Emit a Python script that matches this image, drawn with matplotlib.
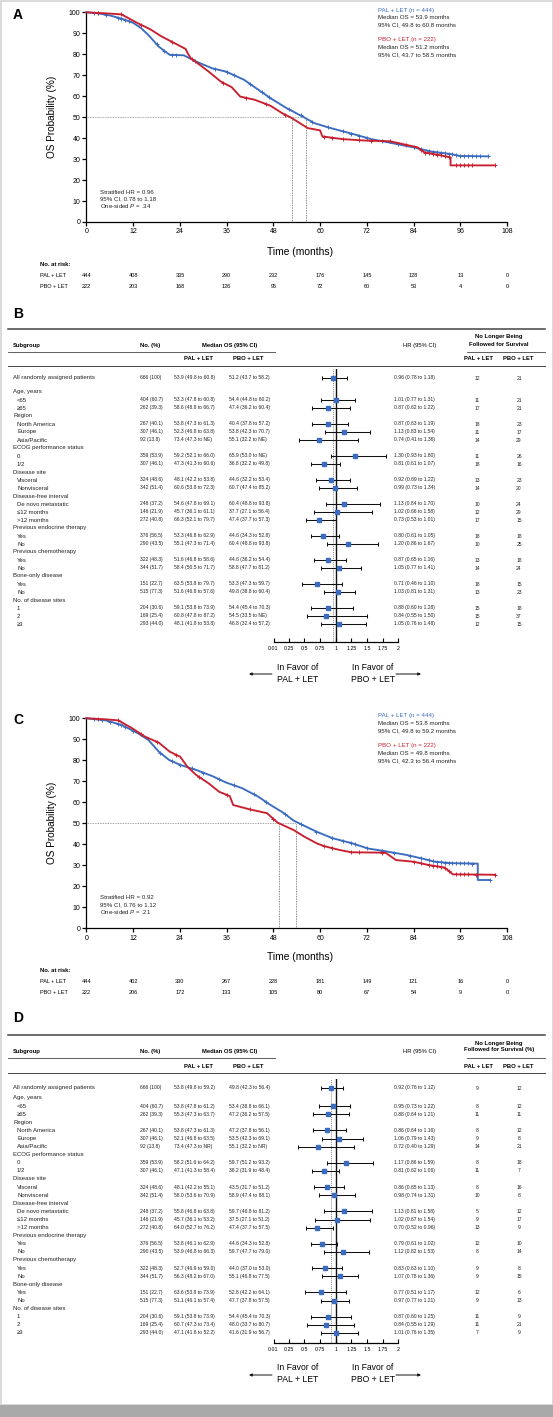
import numpy as np
import matplotlib
matplotlib.use("Agg")
import matplotlib.pyplot as plt
from matplotlib.transforms import blended_transform_factory as blend
from matplotlib.patches import Rectangle

plt.rcParams['font.family'] = ['Liberation Sans', 'DejaVu Sans']
plt.rcParams['mathtext.fontset'] = 'custom'
plt.rcParams['mathtext.it'] = 'Liberation Sans:italic'
plt.rcParams['mathtext.rm'] = 'Liberation Sans'

BLUE = '#3b6cc0'
RED = '#c8202e'
W, H = 553, 1417

# ---------------- KM data ----------------
a_pal_t = [0, 3, 6, 9, 12, 14, 16, 18.6, 21.4, 25, 28.2, 32.3, 35.9, 40.5, 43.2, 47.3, 51.4, 55.5,
           58.6, 62.3, 68.6, 73.2, 77.7, 84, 88.5, 93.2, 96, 103.2]
a_pal_s = [100, 99.5, 98.5, 97, 95, 92.5, 89, 83.6, 79.7, 79.5, 76.5, 73.3, 71.7, 67.8, 64.3, 59,
           54.3, 50.3, 47.1, 45, 41.9, 39.5, 37.9, 35.6, 33.6, 32.5, 31.5, 31.3]
a_pbo_t = [0, 5, 9, 13.2, 16.4, 19.1, 22.3, 25.5, 26.0, 26.8, 29.5, 31.4, 34.5, 37.3, 39.5, 43.2,
           47.3, 50, 52.8, 56.8, 60, 60.6, 65.9, 72, 78, 85, 86.8, 90.5, 93.5, 93.5, 104.8]
a_pbo_s = [100, 99.5, 99, 94.8, 91.9, 88.7, 85.6, 82.5, 80.5, 78.1, 74.4, 71.7, 67, 64.3, 59.8,
           58.3, 55.4, 52.2, 49.5, 44.8, 43.7, 40.8, 39.5, 38.8, 38.5, 35.6, 33.2, 32, 30.8, 27, 27]
a_pal_cens = [2, 3, 5, 8, 9, 10, 11, 18, 20, 22, 23, 28, 33, 36, 38, 42, 45, 47, 52, 55, 58, 62,
              66, 68, 70, 72, 76, 80, 84, 86, 88, 89, 90, 91, 92, 93, 94, 95, 96, 97, 98, 99, 100,
              101, 103.2]
a_pbo_cens = [3, 9, 14, 22, 27, 35, 41, 46, 51, 61, 63, 66, 70, 73, 78, 82, 86, 87, 88, 89, 90,
              91, 92, 93, 95, 96, 97, 98, 99, 104.8]
a_medians = [52.7, 56.4]

c_pal_t = [0, 5, 9.1, 13.2, 15.9, 18.6, 21.2, 24.1, 28.2, 32.3, 35.9, 40, 44.1, 47.3, 50.5, 53.2,
           55.5, 59.1, 63.2, 68.2, 72.3, 76.4, 82.3, 86, 89.5, 94, 100.5, 100.5, 103.6]
c_pal_s = [100, 99, 96.8, 92.9, 89.7, 84.1, 80.2, 77.8, 75.4, 72.5, 69.4, 66.7, 62.7, 58.7, 55.1,
           51.3, 49.2, 46, 42.9, 40.5, 38, 36.8, 34.9, 33.3, 31.7, 31, 30.8, 23, 23]
c_pbo_t = [0, 5, 8.2, 11.8, 15, 18.6, 21.4, 24.1, 25.9, 28.2, 31.4, 34.1, 36.8, 37.7, 41.8, 46.4,
           49.1, 53.2, 55.9, 59.1, 60.9, 65, 68, 76.8, 79.5, 84, 87.7, 92, 94.1, 105]
c_pbo_s = [100, 99.5, 99, 95.2, 91.3, 88.4, 84.1, 81.7, 77, 73, 69, 65, 63, 58.7, 56.7, 54.8,
           50.3, 46.8, 43.7, 40.5, 39.2, 37.3, 36.2, 36, 32.5, 31.7, 30.2, 28.9, 25.7, 25.5]
c_pal_cens = [2, 4, 6, 8, 9, 10, 12, 19, 22, 24, 27, 30, 34, 38, 43, 46, 51, 55, 59, 63, 66, 68,
              69, 72, 76, 79, 83, 86, 88, 89, 90, 91, 92, 93, 94, 95, 96, 97, 98, 99, 103.6]
c_pbo_cens = [3, 8, 14, 18, 23, 29, 36, 42, 48, 61, 63, 68, 70, 76, 84, 86, 88, 89, 90, 91, 92,
              93, 95, 96, 97, 98, 100, 105]
c_medians = [49.4, 53.7]

risk_months = [0, 12, 24, 36, 48, 60, 72, 84, 96, 108]
a_risk_pal = [444, 408, 335, 290, 232, 176, 145, 128, 13, 0]
a_risk_pbo = [222, 203, 168, 126, 95, 72, 60, 53, 4, 0]
c_risk_pal = [444, 402, 330, 267, 228, 181, 149, 121, 16, 0]
c_risk_pbo = [222, 206, 172, 133, 105, 80, 67, 54, 9, 0]

a_legend = ["PAL + LET (n = 444)", "Median OS = 53.9 months", "95% CI, 49.8 to 60.8 months",
            "PBO + LET (n = 222)", "Median OS = 51.2 months", "95% CI, 43.7 to 58.5 months"]
c_legend = ["PAL + LET (n = 444)", "Median OS = 53.8 months", "95% CI, 49.8 to 59.2 months",
            "PBO + LET (n = 222)", "Median OS = 49.8 months", "95% CI, 42.3 to 56.4 months"]
a_hr_text = ["Stratified HR = 0.96", "95% CI, 0.78 to 1.18", r"One-sided $\it{P}$ = .34"]
c_hr_text = ["Stratified HR = 0.92", "95% CI, 0.76 to 1.12", r"One-sided $\it{P}$ = .21"]

# ---------------- Forest data ----------------
sub_labels = ["All randomly assigned patients", "Age, years", "<65", "\u226565", "Region",
              "North America", "Europe", "Asia/Pacific", "ECOG performance status", "0", "1/2",
              "Disease site", "Visceral", "Nonvisceral", "Disease-free interval",
              "De novo metastatic", "\u226412 months", ">12 months", "Previous endocrine therapy",
              "Yes", "No", "Previous chemotherapy", "Yes", "No", "Bone-only disease", "Yes", "No",
              "No. of disease sites", "1", "2", "\u22653"]
sub_n = ["666 (100)", None, "404 (60.7)", "262 (39.3)", None, "267 (40.1)", "307 (46.1)",
         "92 (13.8)", None, "359 (53.9)", "307 (46.1)", None, "324 (48.6)", "342 (51.4)", None,
         "248 (37.2)", "146 (21.9)", "272 (40.8)", None, "376 (56.5)", "290 (43.5)", None,
         "322 (48.3)", "344 (51.7)", None, "151 (22.7)", "515 (77.3)", None, "204 (30.6)",
         "169 (25.4)", "293 (44.0)"]

b_pal_med = ["53.9 (49.8 to 60.8)", None, "53.3 (47.8 to 60.8)", "58.6 (48.8 to 66.7)", None,
             "53.8 (47.3 to 61.3)", "52.3 (46.8 to 63.8)", "73.4 (47.3 to NE)", None,
             "59.2 (52.1 to 66.0)", "47.3 (41.3 to 60.6)", None, "48.1 (42.2 to 53.8)",
             "60.6 (53.8 to 72.3)", None, "54.6 (47.8 to 69.1)", "45.7 (36.1 to 61.1)",
             "66.3 (52.1 to 79.7)", None, "53.3 (46.8 to 62.9)", "55.1 (47.3 to 71.4)", None,
             "51.6 (46.8 to 58.6)", "58.4 (50.5 to 71.7)", None, "63.5 (53.8 to 79.7)",
             "51.6 (46.8 to 57.6)", None, "59.1 (53.8 to 73.9)", "60.8 (47.8 to 87.2)",
             "48.1 (41.8 to 53.8)"]
b_pbo_med = ["51.2 (43.7 to 58.2)", None, "54.4 (44.8 to 60.2)", "47.4 (36.2 to 60.4)", None,
             "40.4 (37.8 to 57.2)", "53.8 (42.3 to 70.7)", "55.1 (32.2 to NE)", None,
             "65.9 (53.0 to NE)", "36.8 (32.2 to 49.8)", None, "44.6 (32.2 to 53.4)",
             "60.7 (47.4 to 85.2)", None, "60.4 (48.8 to 93.8)", "37.7 (27.1 to 56.4)",
             "47.4 (37.7 to 57.3)", None, "44.6 (34.3 to 52.8)", "60.4 (48.8 to 93.8)", None,
             "44.6 (36.2 to 54.4)", "58.8 (47.7 to 81.2)", None, "53.3 (47.3 to 59.7)",
             "49.8 (38.8 to 60.4)", None, "54.4 (45.4 to 70.3)", "54.5 (33.5 to NE)",
             "46.8 (32.4 to 57.2)"]
b_hr = [0.96, None, 1.01, 0.87, None, 0.87, 1.13, 0.74, None, 1.30, 0.81, None, 0.92, 0.99, None,
        1.13, 1.02, 0.73, None, 0.80, 1.20, None, 0.87, 1.05, None, 0.71, 1.03, None, 0.88, 0.84,
        1.05]
b_lo = [0.78, None, 0.77, 0.62, None, 0.63, 0.83, 0.41, None, 0.93, 0.61, None, 0.69, 0.73, None,
        0.84, 0.66, 0.53, None, 0.61, 0.86, None, 0.65, 0.77, None, 0.46, 0.81, None, 0.60, 0.55,
        0.76]
b_hi = [1.18, None, 1.31, 1.22, None, 1.19, 1.54, 1.36, None, 1.80, 1.07, None, 1.22, 1.34, None,
        1.70, 1.58, 1.01, None, 1.05, 1.67, None, 1.16, 1.41, None, 1.10, 1.31, None, 1.28, 1.50,
        1.48]
b_nf_pal = [12, None, 11, 17, None, 18, 11, 14, None, 11, 18, None, 13, 14, None, 10, 12, 17,
            None, 18, 10, None, 13, 14, None, 18, 13, None, 15, 15, 12]
b_nf_pbo = [21, None, 21, 21, None, 23, 17, 29, None, 26, 16, None, 23, 20, None, 24, 29, 15,
            None, 18, 25, None, 18, 24, None, 15, 23, None, 18, 37, 15]

d_pal_med = ["53.8 (49.8 to 59.2)", None, "53.8 (47.8 to 61.2)", "55.3 (47.3 to 63.7)", None,
             "53.8 (47.3 to 61.3)", "52.1 (46.8 to 63.5)", "73.4 (47.3 to NR)", None,
             "58.2 (51.6 to 64.2)", "47.1 (41.3 to 58.4)", None, "48.1 (42.2 to 55.1)",
             "58.0 (53.6 to 70.9)", None, "55.8 (46.8 to 63.8)", "45.7 (36.1 to 53.2)",
             "64.0 (52.7 to 76.2)", None, "53.8 (46.1 to 62.9)", "53.9 (46.8 to 66.3)", None,
             "52.7 (46.9 to 59.0)", "56.3 (48.2 to 67.0)", None, "63.6 (53.8 to 73.9)",
             "51.1 (46.1 to 57.4)", None, "59.1 (53.8 to 73.9)", "60.7 (47.3 to 73.4)",
             "47.1 (41.6 to 52.2)"]
d_pbo_med = ["49.8 (42.3 to 56.4)", None, "53.4 (38.8 to 66.1)", "47.2 (36.2 to 57.5)", None,
             "47.2 (37.8 to 56.1)", "53.5 (42.3 to 69.1)", "55.1 (32.2 to NR)", None,
             "59.7 (51.2 to 93.2)", "38.2 (31.9 to 48.4)", None, "43.5 (31.7 to 51.2)",
             "58.9 (47.4 to 88.1)", None, "59.7 (46.8 to 81.2)", "37.5 (27.1 to 51.2)",
             "47.4 (37.7 to 57.5)", None, "44.6 (34.3 to 52.8)", "59.7 (47.7 to 79.0)", None,
             "44.0 (37.0 to 53.0)", "55.1 (46.8 to 77.5)", None, "52.8 (42.2 to 64.1)",
             "47.7 (37.8 to 57.5)", None, "54.4 (45.4 to 70.3)", "48.0 (33.7 to 80.7)",
             "41.6 (31.9 to 56.7)"]
d_hr = [0.92, None, 0.95, 0.88, None, 0.86, 1.06, 0.72, None, 1.17, 0.81, None, 0.86, 0.98, None,
        1.13, 1.02, 0.70, None, 0.79, 1.12, None, 0.83, 1.07, None, 0.77, 0.97, None, 0.87, 0.84,
        1.01]
d_lo = [0.76, None, 0.73, 0.64, None, 0.64, 0.79, 0.40, None, 0.86, 0.62, None, 0.65, 0.74, None,
        0.81, 0.67, 0.52, None, 0.61, 0.82, None, 0.63, 0.78, None, 0.51, 0.77, None, 0.60, 0.55,
        0.76]
d_hi = [1.12, None, 1.22, 1.21, None, 1.16, 1.43, 1.29, None, 1.59, 1.06, None, 1.13, 1.31, None,
        1.58, 1.54, 0.96, None, 1.02, 1.53, None, 1.10, 1.36, None, 1.17, 1.21, None, 1.25, 1.29,
        1.35]
d_nf_pal = [9, None, 8, 11, None, 8, 9, 14, None, 8, 11, None, 8, 10, None, 5, 9, 13, None, 12, 8,
            None, 9, 9, None, 12, 9, None, 11, 11, 7]
d_nf_pbo = [12, None, 12, 11, None, 12, 8, 21, None, 18, 7, None, 16, 8, None, 12, 17, 9, None,
            10, 14, None, 8, 15, None, 6, 13, None, 9, 21, 9]

hr_ticks = [0.01, 0.25, 0.5, 0.75, 1, 1.25, 1.5, 1.75, 2]
hr_ticklabels = ["0.01", "0.25", "0.5", "0.75", "1", "1.25", "1.5", "1.75", "2"]

# ---------------- Figure ----------------
fig = plt.figure(figsize=(W / 100, H / 100), dpi=100)
ov = fig.add_axes([0, 0, 1, 1], zorder=0)
ov.set_xlim(0, W)
ov.set_ylim(H, 0)
ov.axis('off')
ov.add_patch(Rectangle((0.5, 0.5), W - 1, 1404, fill=False, ec='#d4d4d4', lw=1.2))
ov.add_patch(Rectangle((0, 1405), W, 12, color='#a9a9a9', lw=0))

KX0, KX1 = 86.4, 507.0


def km_panel(top, bot, letter, letter_y, curves, medians, legend, leg_y, hrtxt, hr_y,
             risk_pal, risk_pbo, risk_y, tlabel_y):
    ax = fig.add_axes([KX0 / W, 1 - bot / H, (KX1 - KX0) / W, (bot - top) / H], zorder=2)
    ax.set_facecolor('none')
    ax.set_xlim(0, 108)
    ax.set_ylim(0, 100)
    for sp in ['top', 'right']:
        ax.spines[sp].set_visible(False)
    for sp in ['left', 'bottom']:
        ax.spines[sp].set_linewidth(0.9)
    ax.set_xticks(risk_months)
    ax.set_yticks(range(0, 101, 10))
    ax.tick_params(labelsize=5.0, length=3, width=0.9, pad=1.5)
    # median dotted lines
    ax.plot([0, max(medians)], [50, 50], ls=(0, (1, 1)), color='#888888', lw=0.6)
    for m in medians:
        ax.plot([m, m], [0, 50], ls=(0, (1, 1)), color='#666666', lw=0.6)
    for t, s, cens, col in curves:
        ax.plot(t, s, color=col, lw=1.35, clip_on=False, zorder=3)
        ax.plot(cens, np.interp(cens, t, s), ls='none', marker='+', color=col, ms=3.4,
                mew=0.7, clip_on=False, zorder=3)
    ov.text(13, letter_y, letter, fontsize=10, fontweight='bold', ha='left', va='center')
    ov.text(52, (top + bot) / 2, "OS Probability (%)", rotation=90, fontsize=7.2,
            ha='center', va='center')
    ov.text(300, tlabel_y, "Time (months)", fontsize=7.4, ha='center', va='center')
    # legend
    for i, line in enumerate(legend):
        col = BLUE if i == 0 else (RED if i == 3 else '#222222')
        ov.text(KX0 + 0.693 * (KX1 - KX0), leg_y[i], line, fontsize=4.4, color=col,
                ha='left', va='center')
    for i, line in enumerate(hrtxt):
        ov.text(99.5, hr_y[i], line, fontsize=4.4, color='#222222', ha='left', va='center')
    # risk table
    tr = blend(ax.transData, ov.transData)
    ov.text(40, risk_y[0], "No. at risk:", fontsize=4.2, fontweight='bold', ha='left',
            va='center')
    ov.text(40, risk_y[1], "PAL + LET", fontsize=4.0, ha='left', va='center')
    ov.text(40, risk_y[2], "PBO + LET", fontsize=4.0, ha='left', va='center')
    for m, vp, vb in zip(risk_months, risk_pal, risk_pbo):
        ax.text(m, risk_y[1], str(vp), transform=tr, fontsize=4.0, ha='center', va='center')
        ax.text(m, risk_y[2], str(vb), transform=tr, fontsize=4.0, ha='center', va='center')
    return ax


km_panel(12.3, 222, "A", 15,
         [(a_pal_t, a_pal_s, a_pal_cens, BLUE), (a_pbo_t, a_pbo_s, a_pbo_cens, RED)],
         a_medians, a_legend, [10.3, 17.7, 25, 39.7, 47.3, 54.6], a_hr_text, [192, 199, 206.5],
         a_risk_pal, a_risk_pbo, [265, 275.5, 286], 252)
km_panel(718.3, 928.3, "C", 720,
         [(c_pal_t, c_pal_s, c_pal_cens, BLUE), (c_pbo_t, c_pbo_s, c_pbo_cens, RED)],
         c_medians, c_legend, [716, 723.5, 731, 746, 753.5, 761], c_hr_text,
         [897.5, 905, 912.5], c_risk_pal, c_risk_pbo, [971, 981.5, 992.5], 957)

HX0, HX1 = 273.5, 398.5
header_idx = {1, 4, 8, 11, 14, 18, 21, 24, 27}


def forest(L, pal_med, pbo_med, hr, lo, hi, nf_pal, nf_pbo, letter, pct):
    top = L['top']
    ov.text(13, L['letter'], letter, fontsize=10, fontweight='bold', ha='left', va='center')
    ov.plot([8, 545], [top, top], color='#444444', lw=1.1)
    ov.plot([8, 275], [L['line2'], L['line2']], color='#444444', lw=0.6)
    ov.plot([467, 545], [L['line2'], L['line2']], color='#444444', lw=0.6)
    ov.plot([8, 545], [L['line3'], L['line3']], color='#444444', lw=0.7)
    hk = dict(fontsize=4.2, fontweight='bold', va='center')
    ov.text(13, L['hdr'], "Subgroup", ha='left', **hk)
    ov.text(140, L['hdr'], "No. (%)", ha='left', **hk)
    ov.text(230, L['hdr'], "Median OS (95% CI)", ha='center', **hk)
    ov.text(420, L['hdr'], "HR (95% CI)", ha='center', fontsize=4.2, va='center')
    ov.text(499, L['nl1'], "No Longer Being", ha='center', **hk)
    ov.text(499, L['nl2'], "Followed for Survival" + pct, ha='center', **hk)
    for x, s in [(199, "PAL + LET"), (248, "PBO + LET"), (479, "PAL + LET"), (518, "PBO + LET")]:
        ov.text(x, L['sub'], s, ha='center', **hk)
    ys = [L['all']] + [L['first'] + (i - 1) * L['step'] for i in range(1, len(sub_labels))]
    for i, lab in enumerate(sub_labels):
        y = ys[i]
        indent = 17 if (i not in header_idx and i != 0) else 13
        ov.text(indent, y, lab, fontsize=4.3, ha='left', va='center', color='#222222')
        if sub_n[i] is None:
            continue
        nk = dict(fontsize=3.6, va='center', color='#222222')
        ov.text(140, y, sub_n[i], ha='left', **nk)
        ov.text(174, y, pal_med[i], ha='left', **nk)
        ov.text(229, y, pbo_med[i], ha='left', **nk)
        ov.text(394, y, f"{hr[i]:.2f} ({lo[i]:.2f} to {hi[i]:.2f})", ha='left', **nk)
        ov.text(477, y, str(nf_pal[i]), ha='center', **nk)
        ov.text(519, y, str(nf_pbo[i]), ha='center', **nk)
    # forest axes
    ytop, ybot = L['all'] - 9, L['axis']
    ax = fig.add_axes([HX0 / W, 1 - ybot / H, (HX1 - HX0) / W, (ybot - ytop) / H], zorder=2)
    ax.set_facecolor('none')
    ax.set_xlim(0.01, 2.0)
    ax.set_ylim(ybot, ytop)
    for sp in ['top', 'right', 'left']:
        ax.spines[sp].set_visible(False)
    ax.spines['bottom'].set_linewidth(0.9)
    ax.set_yticks([])
    ax.set_xticks(hr_ticks)
    ax.set_xticklabels(hr_ticklabels)
    ax.tick_params(axis='x', direction='in', length=3, width=0.8, labelsize=3.8, pad=3)
    ax.axvline(1, color='#111111', lw=1.0, zorder=1)
    ax.axvline(hr[0], color='#888888', lw=0.7, ls=(0, (1, 1)), zorder=1)
    idx = [i for i in range(len(sub_labels)) if hr[i] is not None]
    yv = np.array([ys[i] for i in idx])
    hv = np.array([hr[i] for i in idx])
    lv = np.array([lo[i] for i in idx])
    uv = np.array([hi[i] for i in idx])
    ax.errorbar(hv, yv, xerr=[hv - lv, uv - hv], fmt='none', ecolor='#111111', elinewidth=0.75,
                capsize=1.3, capthick=0.75, zorder=2, clip_on=False)
    ax.plot(hv, yv, ls='none', marker='s', ms=3.1, color=BLUE, mec=BLUE, zorder=3,
            clip_on=False)
    # favour labels
    fy = L['axis']
    ov.text(298, fy + 25, "In Favor of", fontsize=6.2, ha='center', va='center')
    ov.text(298, fy + 37, "PAL + LET", fontsize=6.2, ha='center', va='center')
    ov.text(373, fy + 25, "In Favor of", fontsize=6.2, ha='center', va='center')
    ov.text(373, fy + 37, "PBO + LET", fontsize=6.2, ha='center', va='center')
    ak = dict(arrowstyle='-|>', lw=0.7, color='#111111', mutation_scale=4, shrinkA=0, shrinkB=0)
    ov.annotate('', xy=(249, fy + 32), xytext=(272, fy + 32), arrowprops=ak)
    ov.annotate('', xy=(421, fy + 32), xytext=(396, fy + 32), arrowprops=ak)


LB = dict(letter=314, top=329, nl1=336.5, nl2=344, hdr=345, line2=352, sub=359, line3=366,
          all=378, first=392, step=8.0, axis=642)
LD = dict(letter=1018, top=1035, nl1=1043, nl2=1050, hdr=1051, line2=1058, sub=1066, line3=1073,
          all=1088, first=1098, step=8.1, axis=1343)
forest(LB, b_pal_med, b_pbo_med, b_hr, b_lo, b_hi, b_nf_pal, b_nf_pbo, "B", "")
forest(LD, d_pal_med, d_pbo_med, d_hr, d_lo, d_hi, d_nf_pal, d_nf_pbo, "D", " (%)")

fig.savefig("out.png", dpi=100)
